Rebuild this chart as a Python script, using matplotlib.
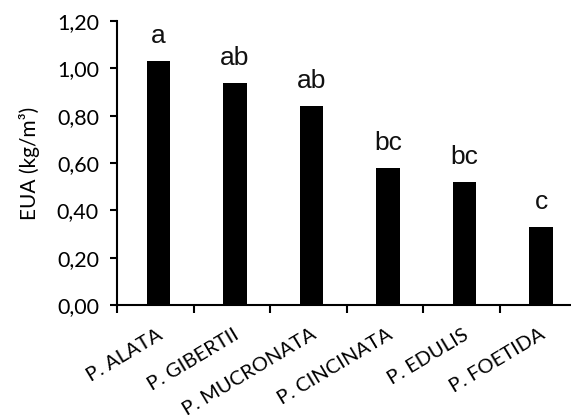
import numpy as np
import matplotlib.pyplot as plt
from matplotlib.ticker import FuncFormatter

especies = ['P. ALATA', 'P. GIBERTII', 'P. MUCRONATA', 'P. CINCINATA', 'P. EDULIS', 'P. FOETIDA']
eua = [1.03, 0.94, 0.84, 0.58, 0.52, 0.33]
letras = ['a', 'ab', 'ab', 'bc', 'bc', 'c']

plt.rcParams['font.family'] = ['Lato', 'DejaVu Sans']

fig = plt.figure(figsize=(5.71, 4.19), dpi=100)
ax = fig.add_axes([0.205, 0.272, 0.795, 0.678])

x = np.arange(len(especies))
ax.bar(x + 0.04, eua, width=0.31, color='black')

# letras de significancia
for xi, v, l in zip(x, eua, letras):
    ax.text(xi + 0.04, v + 0.075, l, ha='center', va='baseline', fontsize=19,
            family='Liberation Sans', color='#111111')

ax.set_ylim(0, 1.2)
ax.set_xlim(-0.5, 5.43)
ax.set_yticks(np.arange(0, 1.21, 0.2))
ax.yaxis.set_major_formatter(FuncFormatter(lambda v, p: f'{v:.2f}'.replace('.', ',')))

# ticks do eixo x nas divisas das categorias (estilo Excel)
ax.set_xticks(np.arange(-0.5, 5.5, 1.0))
ax.set_xticklabels([])
ax.set_xticks(x + 0.02, minor=True)
ax.set_xticklabels(especies, minor=True, rotation=31, ha='right', va='top',
                   rotation_mode='anchor', fontsize=14.5)
ax.tick_params(axis='x', which='minor', length=0, pad=15)
ax.tick_params(axis='x', which='major', length=6, width=1.5, direction='out')
ax.tick_params(axis='y', length=5, width=1.5, direction='out', labelsize=15.5, pad=8)

for s in ['top', 'right']:
    ax.spines[s].set_visible(False)
for s in ['left', 'bottom']:
    ax.spines[s].set_linewidth(1.5)

ax.set_ylabel('EUA (kg/m³)', fontsize=15, labelpad=12)

fig.savefig('out.png', dpi=100)
